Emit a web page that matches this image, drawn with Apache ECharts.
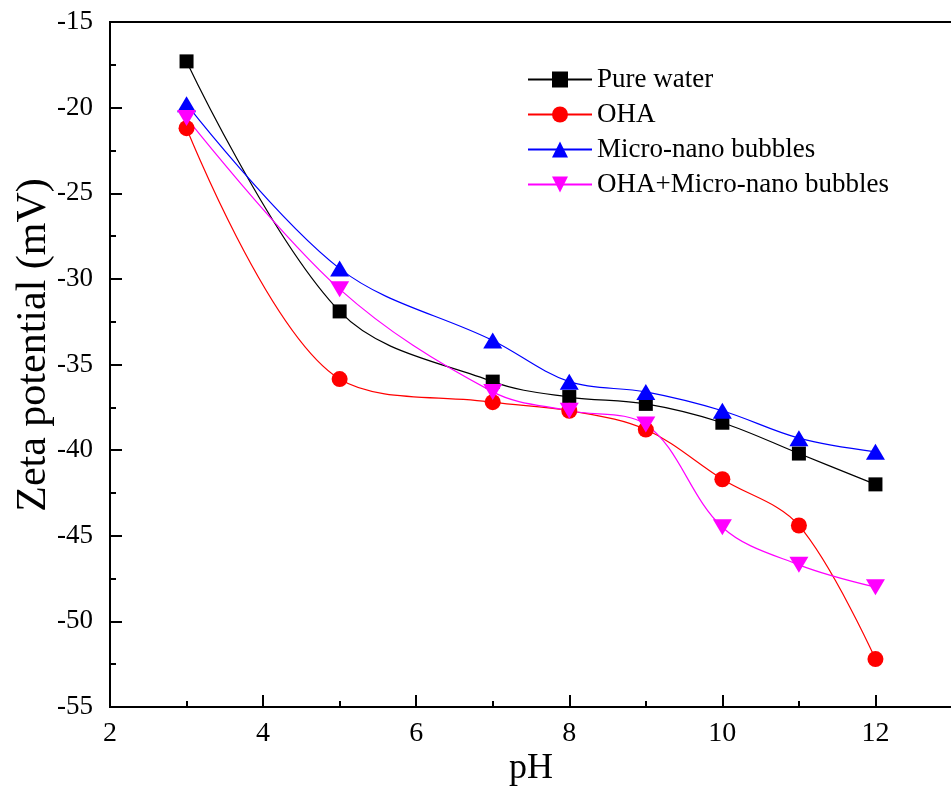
<!DOCTYPE html>
<html>
<head>
<meta charset="utf-8">
<script src="https://cdn.jsdelivr.net/npm/echarts@6/dist/echarts.min.js"></script>
<style>
  html, body { margin: 0; padding: 0; background: #fff; }
  #chart { width: 951px; height: 792px; }
</style>
</head>
<body>
<div id="chart"></div>
<script>
// pH values where the zeta potential was measured
var phValues = [3, 5, 7, 8, 9, 10, 11, 12];

// Zeta potential (mV) for each condition
var pureWater = [-17.3, -31.9, -36.0, -36.9, -37.3, -38.4, -40.2, -42.0];
var oha = [-21.2, -35.85, -37.2, -37.7, -38.8, -41.7, -44.4, -52.2];
var microNano = [-19.8, -29.4, -33.6, -36.0, -36.6, -37.7, -39.3, -40.1];
var ohaMicroNano = [-20.6, -30.6, -36.6, -37.7, -38.5, -44.5, -46.7, -48.0];

var seriesNames = ['Pure water', 'OHA', 'Micro-nano bubbles', 'OHA+Micro-nano bubbles'];

function pairs(ys) {
  return phValues.map(function (x, i) { return [x, ys[i]]; });
}

var FONT = '"Liberation Serif", "Times New Roman", serif';

function makeSeries(name, ys, color, symbol, size, rotate) {
  return {
    name: name,
    type: 'line',
    data: pairs(ys),
    smooth: 0.35,
    symbol: symbol,
    symbolSize: size,
    symbolRotate: rotate || 0,
    lineStyle: { color: color, width: 1.2 },
    itemStyle: { color: color, borderWidth: 0 },
    emphasis: { disabled: true }
  };
}

var chart = echarts.init(document.getElementById('chart'));
chart.setOption({
  animation: false,
  backgroundColor: '#fff',
  grid: {
    left: 110, top: 22, bottom: 85, right: -1,
    outerBoundsMode: 'none',
    show: true, borderColor: '#000', borderWidth: 2, backgroundColor: 'transparent'
  },
  legend: {
    left: 522, top: 61,
    orient: 'vertical',
    itemWidth: 64, itemHeight: 20, itemGap: 8,
    textStyle: { fontFamily: FONT, fontSize: 27, lineHeight: 27, color: '#000' },
    data: seriesNames
  },
  xAxis: {
    type: 'value',
    min: 2, max: 13, interval: 2,
    name: 'pH', nameLocation: 'middle', nameGap: 44,
    nameMoveOverlap: false,
    nameTextStyle: { fontFamily: FONT, fontSize: 36, color: '#000' },
    axisLine: { onZero: false, lineStyle: { color: '#000', width: 2 } },
    axisTick: { inside: true, length: 12, lineStyle: { color: '#000', width: 2 } },
    minorTick: { show: true, splitNumber: 2, length: 6, lineStyle: { color: '#000', width: 2 } },
    axisLabel: {
      fontFamily: FONT, fontSize: 28, color: '#000', margin: 13,
      formatter: function (v) { return v <= 12 ? String(v) : ''; }
    },
    splitLine: { show: false }
  },
  yAxis: {
    type: 'value',
    min: -55, max: -15, interval: 5,
    name: 'Zeta potential (mV)', nameLocation: 'middle', nameGap: 55,
    nameMoveOverlap: false,
    nameTextStyle: { fontFamily: FONT, fontSize: 42, color: '#000', padding: [0, 0, 0, 39] },
    axisLine: { onZero: false, lineStyle: { color: '#000', width: 2 } },
    axisTick: { inside: true, length: 12, lineStyle: { color: '#000', width: 2 } },
    minorTick: { show: true, splitNumber: 2, length: 6, lineStyle: { color: '#000', width: 2 } },
    axisLabel: { fontFamily: FONT, fontSize: 27, color: '#000', margin: 17 },
    splitLine: { show: false }
  },
  series: [
    makeSeries(seriesNames[0], pureWater, '#000000', 'rect', 14),
    makeSeries(seriesNames[1], oha, '#ff0000', 'circle', 16),
    makeSeries(seriesNames[2], microNano, '#0000ff', 'triangle', [19, 16]),
    makeSeries(seriesNames[3], ohaMicroNano, '#ff00ff', 'triangle', [19, 16], 180)
  ]
});
</script>
</body>
</html>
